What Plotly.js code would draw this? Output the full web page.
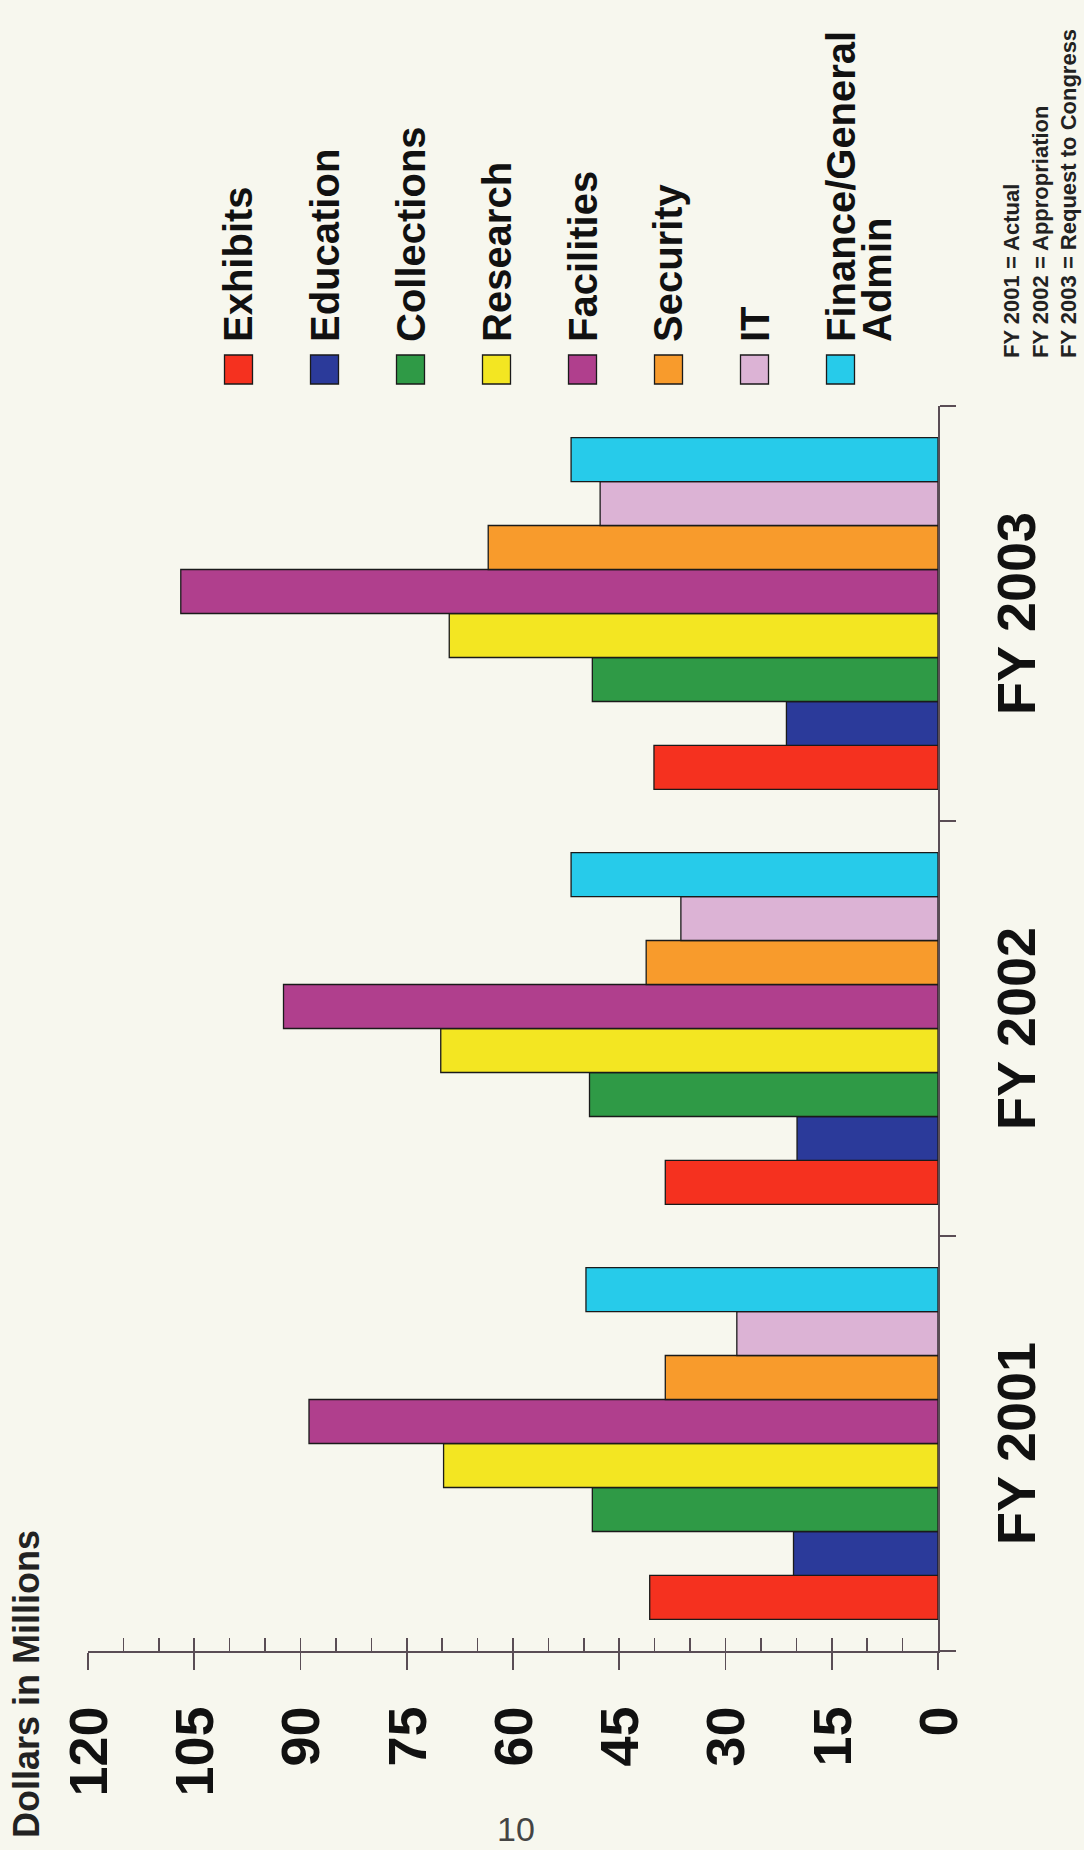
<!DOCTYPE html>
<html>
<head>
<meta charset="utf-8">
<script src="https://cdn.plot.ly/plotly-3.0.1.min.js"></script>
<style>
  html, body { margin:0; padding:0; background:#f7f7ee; width:1084px; height:1850px; overflow:hidden; }
  #chart { position:absolute; left:0; top:0; width:1850px; height:1084px;
           transform-origin:0 0; transform:translate(0px,1850px) rotate(-90deg); }
</style>
</head>
<body>
<div id="chart"></div>
<script>
// ---- data ----
const categories = ['FY 2001', 'FY 2002', 'FY 2003'];
const seriesNames = ['Exhibits', 'Education', 'Collections', 'Research', 'Facilities', 'Security', 'IT', 'Finance/General Admin'];
const exhibits    = [40.7, 38.5, 40.1];
const education   = [20.4, 19.9, 21.4];
const collections = [48.8, 49.2, 48.8];
const research    = [69.8, 70.2, 69.0];
const facilities  = [88.8, 92.4, 106.9];
const security    = [38.5, 41.2, 63.5];
const it          = [28.4, 36.3, 47.7];
const financeAdmin= [49.7, 51.8, 51.8];
const seriesColors = ['#f5311f', '#2b3a9a', '#2f9a46', '#f3e622', '#b03f8d', '#f89b2c', '#dcb3d5', '#27cbea'];
const legendLines = [['Exhibits'], ['Education'], ['Collections'], ['Research'], ['Facilities'], ['Security'], ['IT'], ['Finance/General', 'Admin']];
const valueTicks = [0, 15, 30, 45, 60, 75, 90, 105, 120];
const yTitle = 'Dollars in Millions';
const footnote = ['FY 2001 = Actual', 'FY 2002 = Appropriation', 'FY 2003 = Request to Congress'];
const pageNumber = '10';

const seriesValues = [exhibits, education, collections, research, facilities, security, it, financeAdmin];

// ---- geometry (unrotated chart frame 1850 x 1084) ----
const W = 1850, H = 1084;
const M = {l:199, r:406, t:88, b:146};
const PW = W - M.l - M.r, PH = H - M.t - M.b;
const px = xo => (xo - M.l) / PW;
const py = yo => (H - M.b - yo) / PH;

const BG = '#f7f7ee';
const AX = '#5a4d55';
const FONT = 'Liberation Sans, Arial, Helvetica, sans-serif';

const traces = seriesNames.map((name, i) => ({
  type: 'bar',
  name: name,
  x: categories,
  y: seriesValues[i],
  marker: {color: seriesColors[i], line: {color: '#1a1a1a', width: 1.3}},
  showlegend: false,
  hoverinfo: 'skip'
}));
// helper trace so the minor-tick overlay axis is drawn
traces.push({type:'scatter', x: categories, y: [null, null, null], yaxis:'y2', showlegend:false, hoverinfo:'skip', mode:'markers'});

const shapes = [];
const annotations = [];

// manual legend
const legTop = 238.5, legStep = 86;
legendLines.forEach((lines, i) => {
  const c = legTop + legStep * i;
  shapes.push({type:'rect', xref:'paper', yref:'paper',
    x0: px(1466), x1: px(1495), y0: py(c - 14), y1: py(c + 14),
    fillcolor: seriesColors[i], line:{color:'#1a1a1a', width:1.3}});
  lines.forEach((t, k) => {
    annotations.push({xref:'paper', yref:'paper', x: px(1506), y: py(c + k * 36),
      xanchor:'left', yanchor:'middle', showarrow:false, text: t,
      font:{family: FONT, size: 40, color:'#111', weight:'bold'}});
  });
});

// axis title (top-left of the unrotated frame)
annotations.push({xref:'paper', yref:'paper', x: px(10), y: py(27), xanchor:'left', yanchor:'middle',
  showarrow:false, text: yTitle, font:{family: FONT, size: 36, color:'#222', weight:'bold'}});

// footnote
annotations.push({xref:'paper', yref:'paper', x: px(1490), y: py(1040), xanchor:'left', yanchor:'middle',
  showarrow:false, align:'left', text: footnote.join('<br>'),
  font:{family: FONT, size: 22, color:'#222', weight:'bold'}});

// page number (upright on the page)
annotations.push({xref:'paper', yref:'paper', x: px(21), y: py(516), xanchor:'center', yanchor:'middle',
  showarrow:false, textangle: 90, text: pageNumber,
  font:{family: 'Liberation Sans Narrow, Arial Narrow, sans-serif', size: 34, color:'#444'}});

const layout = {
  width: W, height: H,
  margin: M,
  paper_bgcolor: BG, plot_bgcolor: BG,
  barmode: 'group', bargap: 0.152, bargroupgap: 0,
  font: {family: FONT, color:'#111'},
  xaxis: {
    type:'category', categoryorder:'array', categoryarray: categories,
    range:[-0.5, 2.5],
    showline:true, linecolor: AX, linewidth:1.6,
    ticks:'outside', tickson:'boundaries', ticklen:16, tickwidth:1.6, tickcolor: AX,
    tickfont:{family: FONT, size:54, color:'#111', weight:'bold'},
    ticklabelstandoff: 31,
    showgrid:false, zeroline:false
  },
  yaxis: {
    range:[0, 120], tickmode:'array', tickvals: valueTicks, ticktext: valueTicks.map(String),
    showline:true, linecolor: AX, linewidth:1.6,
    ticks:'outside', ticklen:17, tickwidth:1.6, tickcolor: AX,
    tickfont:{family: FONT, size:54, color:'#111', weight:'bold'},
    ticklabelstandoff: 26,
    showgrid:false, zeroline:false
  },
  yaxis2: {
    overlaying:'y', anchor:'x', side:'left', range:[0, 120],
    tickmode:'linear', tick0:0, dtick:5,
    ticks:'inside', ticklen:13, tickwidth:1.6, tickcolor: AX,
    showticklabels:false, showline:false, showgrid:false, zeroline:false
  },
  shapes: shapes,
  annotations: annotations
};

Plotly.newPlot('chart', traces, layout, {staticPlot:true, displayModeBar:false});
</script>
</body>
</html>
